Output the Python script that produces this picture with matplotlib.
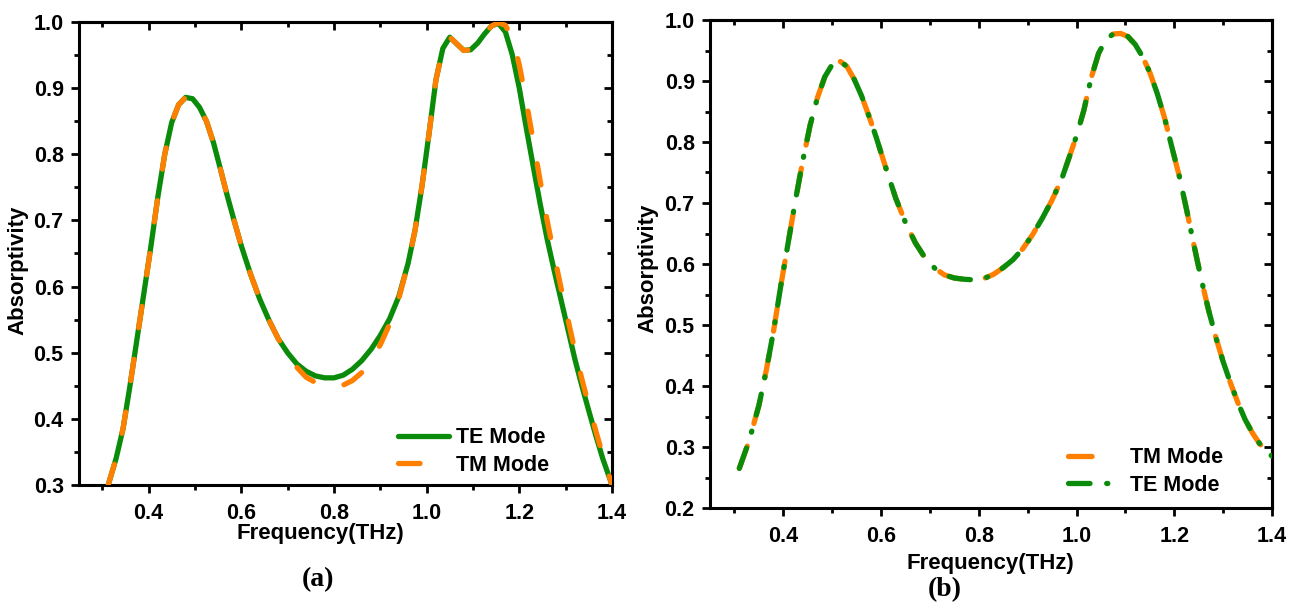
import matplotlib
matplotlib.use("Agg")
import matplotlib.pyplot as plt
from matplotlib.ticker import MultipleLocator

plt.rcParams['font.family'] = ['Liberation Sans', 'DejaVu Sans']
plt.rcParams['font.weight'] = 'bold'
plt.rcParams['lines.scale_dashes'] = False

# ---------------- data: panel (a) ----------------
freq_a_te = [0.313, 0.330, 0.345, 0.360, 0.375, 0.390, 0.405, 0.420, 0.435, 0.450,
             0.465, 0.480, 0.495, 0.510, 0.525, 0.540, 0.555, 0.570, 0.585, 0.600,
             0.620, 0.640, 0.660, 0.680, 0.700, 0.720, 0.740, 0.760, 0.780, 0.800,
             0.820, 0.840, 0.860, 0.880, 0.900, 0.920, 0.940, 0.960, 0.975, 0.990,
             1.005, 1.020, 1.035, 1.050, 1.065, 1.080, 1.095, 1.110, 1.125, 1.140,
             1.155, 1.170, 1.185, 1.200, 1.215, 1.230, 1.245, 1.260, 1.275, 1.290,
             1.305, 1.320, 1.335, 1.350, 1.365, 1.380, 1.400]
abs_a_te = [0.300, 0.340, 0.385, 0.450, 0.520, 0.590, 0.660, 0.735, 0.800, 0.848,
            0.875, 0.886, 0.884, 0.871, 0.850, 0.818, 0.778, 0.737, 0.699, 0.662,
            0.619, 0.581, 0.549, 0.521, 0.500, 0.483, 0.472, 0.465, 0.462, 0.462,
            0.466, 0.475, 0.488, 0.505, 0.526, 0.551, 0.585, 0.635, 0.685, 0.752,
            0.830, 0.912, 0.960, 0.977, 0.967, 0.957, 0.958, 0.968, 0.982, 0.994,
            0.998, 0.985, 0.950, 0.900, 0.840, 0.782, 0.725, 0.672, 0.625, 0.580,
            0.535, 0.490, 0.450, 0.412, 0.375, 0.340, 0.300]

freq_a_tm = [0.313, 0.330, 0.345, 0.360, 0.375, 0.390, 0.405, 0.420, 0.435, 0.450,
             0.465, 0.480, 0.495, 0.510, 0.525, 0.540, 0.555, 0.570, 0.585, 0.600,
             0.620, 0.640, 0.660, 0.680, 0.700, 0.720, 0.740, 0.760, 0.780, 0.800,
             0.820, 0.840, 0.860, 0.880, 0.900, 0.920, 0.940, 0.960, 0.975, 0.990,
             1.005, 1.020, 1.035, 1.050, 1.065, 1.080, 1.095, 1.110, 1.125, 1.140,
             1.155, 1.170, 1.185, 1.200, 1.215, 1.230, 1.245, 1.260, 1.275, 1.290,
             1.305, 1.320, 1.335, 1.350, 1.365, 1.380, 1.400]
abs_a_tm = [0.300, 0.340, 0.385, 0.450, 0.520, 0.590, 0.660, 0.735, 0.800, 0.848,
            0.875, 0.886, 0.884, 0.871, 0.850, 0.818, 0.778, 0.737, 0.699, 0.662,
            0.619, 0.581, 0.549, 0.521, 0.499, 0.478, 0.463, 0.455, 0.450, 0.448,
            0.451, 0.458, 0.470, 0.488, 0.512, 0.543, 0.582, 0.635, 0.685, 0.752,
            0.830, 0.912, 0.960, 0.977, 0.967, 0.957, 0.958, 0.968, 0.982, 0.994,
            0.999, 0.995, 0.975, 0.935, 0.880, 0.820, 0.760, 0.700, 0.648, 0.598,
            0.550, 0.503, 0.460, 0.420, 0.382, 0.345, 0.300]

# ---------------- data: panel (b) ----------------
freq_b = [0.310, 0.330, 0.350, 0.365, 0.380, 0.395, 0.410, 0.425, 0.440, 0.455,
          0.470, 0.485, 0.500, 0.515, 0.530, 0.545, 0.560, 0.575, 0.590, 0.610,
          0.630, 0.650, 0.670, 0.690, 0.710, 0.730, 0.750, 0.770, 0.790, 0.810,
          0.830, 0.850, 0.870, 0.890, 0.910, 0.930, 0.950, 0.970, 0.985, 1.000,
          1.015, 1.030, 1.045, 1.060, 1.075, 1.090, 1.105, 1.120, 1.135, 1.150,
          1.165, 1.180, 1.195, 1.210, 1.225, 1.240, 1.255, 1.270, 1.285, 1.300,
          1.315, 1.330, 1.345, 1.360, 1.375, 1.390, 1.400]
abs_b_tm = [0.265, 0.310, 0.368, 0.425, 0.490, 0.565, 0.635, 0.705, 0.770, 0.828,
            0.873, 0.907, 0.927, 0.933, 0.924, 0.903, 0.876, 0.843, 0.808, 0.757,
            0.708, 0.668, 0.635, 0.610, 0.593, 0.582, 0.577, 0.575, 0.574, 0.576,
            0.583, 0.594, 0.607, 0.625, 0.648, 0.675, 0.705, 0.740, 0.775, 0.810,
            0.852, 0.905, 0.945, 0.968, 0.977, 0.978, 0.973, 0.960, 0.940, 0.914,
            0.880, 0.840, 0.792, 0.745, 0.690, 0.632, 0.576, 0.525, 0.480, 0.440,
            0.405, 0.373, 0.345, 0.323, 0.305, 0.292, 0.285]
abs_b_te = list(abs_b_tm)

GREEN = '#0a8c0a'
ORANGE = '#ff8000'

W, H = 1300, 608
fig = plt.figure(figsize=(W / 100, H / 100), dpi=100)


def px_axes(x0, x1, y_top, y_bot):
    return fig.add_axes([x0 / W, (H - y_bot) / H, (x1 - x0) / W, (y_bot - y_top) / H])


def style_axes(ax, ylo):
    ax.set_xlim(0.25, 1.4)
    ax.set_ylim(ylo, 1.0)
    ax.xaxis.set_major_locator(MultipleLocator(0.2))
    ax.xaxis.set_minor_locator(MultipleLocator(0.1))
    ax.yaxis.set_major_locator(MultipleLocator(0.1))
    ax.yaxis.set_minor_locator(MultipleLocator(0.05))
    ax.xaxis.set_major_formatter(matplotlib.ticker.FormatStrFormatter('%.1f'))
    ax.yaxis.set_major_formatter(matplotlib.ticker.FormatStrFormatter('%.1f'))
    for s in ax.spines.values():
        s.set_linewidth(2.2)
    ax.tick_params(which='major', direction='out', length=6, width=2, labelsize=15.5, pad=5)
    ax.tick_params(which='minor', direction='out', length=3.5, width=2)
    ax.tick_params(axis='x', pad=7)
    for lab in ax.get_xticklabels() + ax.get_yticklabels():
        lab.set_fontweight('bold')
    top = ax.secondary_xaxis('top')
    top.xaxis.set_major_locator(MultipleLocator(0.2))
    top.xaxis.set_minor_locator(MultipleLocator(0.1))
    top.tick_params(which='major', direction='in', length=6, width=2, labeltop=False)
    top.tick_params(which='minor', direction='in', length=3.5, width=2)
    top.spines['top'].set_linewidth(2.2)
    right = ax.secondary_yaxis('right')
    right.yaxis.set_major_locator(MultipleLocator(0.1))
    right.yaxis.set_minor_locator(MultipleLocator(0.05))
    right.tick_params(which='major', direction='in', length=6, width=2, labelright=False)
    right.tick_params(which='minor', direction='in', length=3.5, width=2)
    right.spines['right'].set_linewidth(2.2)


# ---------------- panel (a) ----------------
ax1 = px_axes(79, 612, 22, 485)
l_te, = ax1.plot(freq_a_te, abs_a_te, color=GREEN, lw=3.8, solid_capstyle='round',
                 label='TE Mode', zorder=2)
l_tm, = ax1.plot(freq_a_tm, abs_a_tm, color=ORANGE, lw=3.8, dash_capstyle='round',
                 dashes=(15.5, 23), label='TM Mode', zorder=3)
style_axes(ax1, 0.3)
ax1.legend(handles=[l_te, l_tm], loc='lower left', bbox_to_anchor=(0.598, 0.02),
           frameon=False, handlelength=2.4, handletextpad=0.3,
           labelspacing=0.3, borderpad=0, borderaxespad=0,
           prop={'weight': 'bold', 'size': 15.5})

# ---------------- panel (b) ----------------
ax2 = px_axes(710, 1272, 20, 508)
m_tm, = ax2.plot(freq_b, abs_b_tm, color=ORANGE, lw=3.8, dash_capstyle='round',
                 dashes=(17, 17), label='TM Mode', zorder=2)
m_te, = ax2.plot(freq_b, abs_b_te, color=GREEN, lw=3.8, dash_capstyle='round',
                 dashes=(15.5, 12, 0.8, 12), label='TE Mode', zorder=3)
style_axes(ax2, 0.2)
ax2.legend(handles=[m_tm, m_te], loc='lower left', bbox_to_anchor=(0.637, 0.025),
           frameon=False, handlelength=2.2, handletextpad=0.7,
           labelspacing=0.3, borderpad=0, borderaxespad=0,
           prop={'weight': 'bold', 'size': 15.5})

# ---------------- labels ----------------
fig.text(320 / W, 1 - 533 / H, 'Frequency(THz)', ha='center', va='center',
         fontsize=16, fontweight='bold')
fig.text(990 / W, 1 - 563 / H, 'Frequency(THz)', ha='center', va='center',
         fontsize=16, fontweight='bold')
fig.text(18 / W, 1 - 270 / H, 'Absorptivity', ha='center', va='center',
         rotation=90, fontsize=16, fontweight='bold')
fig.text(648 / W, 1 - 268 / H, 'Absorptivity', ha='center', va='center',
         rotation=90, fontsize=16, fontweight='bold')
fig.text(318 / W, 1 - 580 / H, '(a)', ha='center', va='center', fontsize=20,
         fontweight='bold', family=['Liberation Serif', 'DejaVu Serif'])
fig.text(945 / W, 1 - 590 / H, '(b)', ha='center', va='center', fontsize=20,
         fontweight='bold', family=['Liberation Serif', 'DejaVu Serif'])

fig.savefig('out.png', dpi=100)
